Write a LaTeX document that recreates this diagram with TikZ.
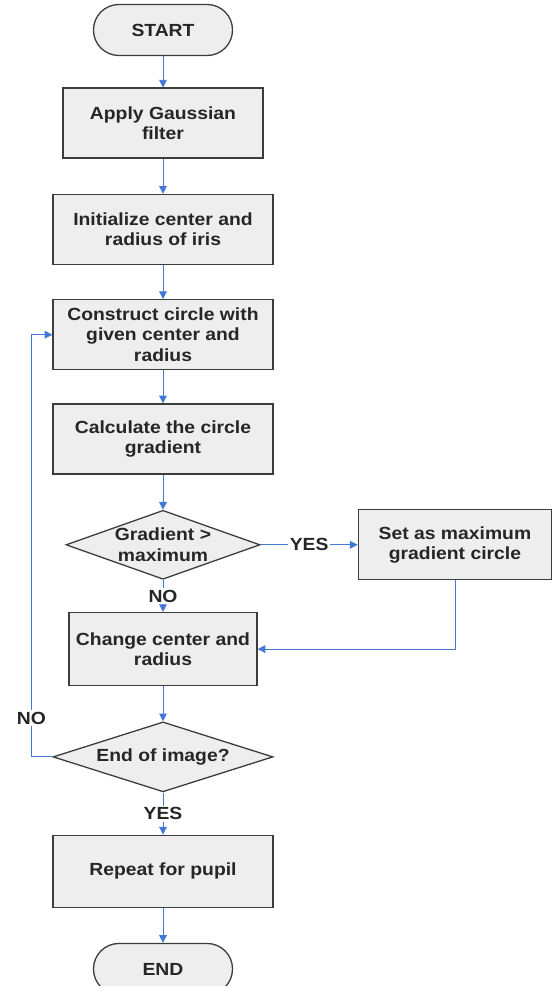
\documentclass[tikz,border=0pt]{standalone}
\usepackage{fontspec}
\setmainfont[FakeStretch=1.1]{Liberation Sans}
\usetikzlibrary{positioning,shapes.geometric,arrows.meta}
\definecolor{arrowblue}{RGB}{66,120,214}
\definecolor{boxfill}{RGB}{238,238,238}
\definecolor{boxline}{RGB}{60,60,60}
\begin{document}
\begin{tikzpicture}
		[x=0.03cm,y=-0.03cm,node distance=10.2mm,
		term/.style={rectangle,rounded corners=7.6mm,draw=boxline,fill=boxfill,line width=1.1pt,minimum width=4.17cm,minimum height=1.53cm,inner sep=0pt,font=\bfseries\fontsize{15}{17.5}\selectfont,text=black!85},
		proc/.style={rectangle,draw=boxline,fill=boxfill,line width=1.1pt,minimum width=6.6cm,minimum height=2.1cm,inner sep=2pt,align=center,font=\bfseries\fontsize{15}{17.5}\selectfont,text=black!85},
		decision/.style={diamond,aspect=2.8,draw=boxline,fill=boxfill,line width=1.1pt,inner sep=0pt,align=center,font=\bfseries\fontsize{15}{17.5}\selectfont,text=black!85},
		flow/.style={-{Triangle[length=2.3mm,width=2.3mm]},draw=arrowblue,line width=0.8pt},
		tag/.style={fill=white,inner sep=1.5pt,font=\bfseries\fontsize{15}{17.5}\selectfont,text=black!85}]
		\useasboundingbox (0,0) rectangle (552,986);
		\clip (0,0) rectangle (552,986);

		\node [term] (start) at (163,30) {START};
		\node [proc, minimum width=6cm] (gauss) [below=9.4mm of start] {Apply Gaussian\\filter};
		\node [proc] (init) [below=10.5mm of gauss] {Initialize center and\\radius of iris};
		\node [proc] (circ) [below=of init] {Construct circle with\\given center and\\radius};
		\node [proc] (grad) [below=9.9mm of circ] {Calculate the circle\\gradient};
		\node [decision, minimum width=5.82cm, minimum height=2.07cm] (cmp) [below=10.5mm of grad] {Gradient >\\maximum};
		\node [proc, minimum width=5.8cm] (setmax) [right=29.1mm of cmp] {Set as maximum\\gradient circle};
		\node [proc, minimum width=5.64cm, minimum height=2.19cm] (change) [below=9.6mm of cmp] {Change center and\\radius};
		\node [decision, minimum width=6.6cm, minimum height=2.1cm] (last) [below=10.5mm of change] {End of image?};
		\node [proc, minimum height=2.16cm] (pupil) [below=12.6mm of last] {Repeat for pupil};
		\node [term] (stop) [below=10.5mm of pupil] {END};

		\draw [flow] (start) -- (gauss);
		\draw [flow] (gauss) -- (init);
		\draw [flow] (init) -- (circ);
		\draw [flow] (circ) -- (grad);
		\draw [flow] (grad) -- (cmp);
		\draw [flow] (cmp) -- (setmax) node [midway, tag] {YES};
		\draw [flow] (cmp) -- (change) node [midway, tag] {NO};
		\draw [flow] (setmax.south) |- (change.east);
		\draw [flow] (change) -- (last);
		\draw [flow] (last.west) -- ++(-21,0) |- node [pos=0.046, tag] {NO} (circ.west);
		\draw [flow] (last) -- (pupil) node [midway, tag] {YES};
		\draw [flow] (pupil) -- (stop);

	\end{tikzpicture}
\end{document}
